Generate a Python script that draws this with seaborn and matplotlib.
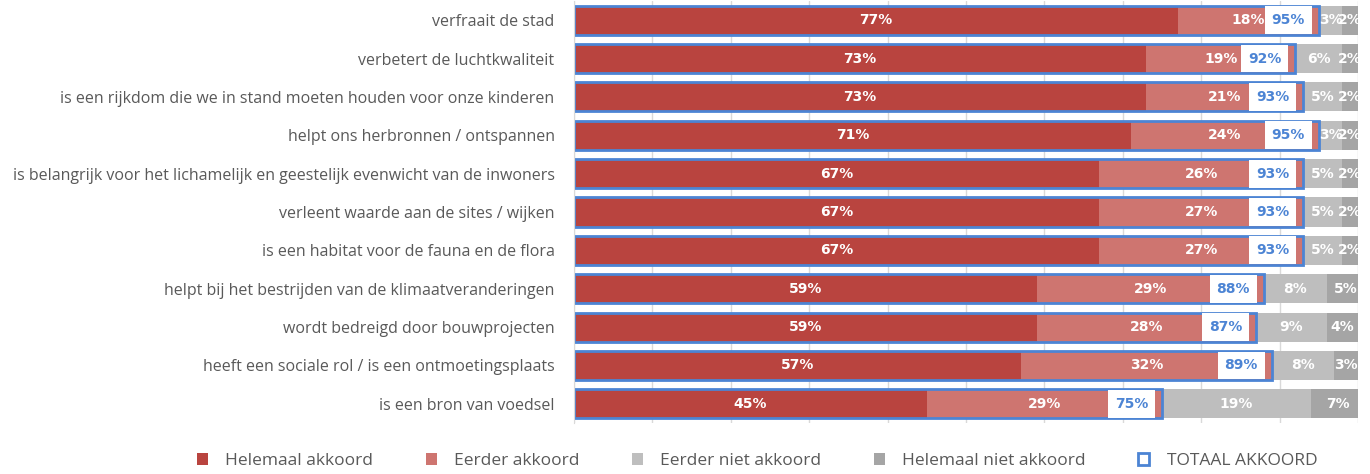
import pandas as pd
import matplotlib.pyplot as plt
import seaborn as sns
from matplotlib.patches import Patch

sns.set_style("white")
plt.rcParams['font.family'] = ['Open Sans', 'DejaVu Sans']

# ------------------------------
# DATA
# ------------------------------
categories = [
    "verfraait de stad",
    "verbetert de luchtkwaliteit",
    "is een rijkdom die we in stand moeten houden voor onze kinderen",
    "helpt ons herbronnen / ontspannen",
    "is belangrijk voor het lichamelijk en geestelijk evenwicht van de inwoners",
    "verleent waarde aan de sites / wijken",
    "is een habitat voor de fauna en de flora",
    "helpt bij het bestrijden van de klimaatveranderingen",
    "wordt bedreigd door bouwprojecten",
    "heeft een sociale rol / is een ontmoetingsplaats",
    "is een bron van voedsel",
]
helemaal_akkoord = [77, 73, 73, 71, 67, 67, 67, 59, 59, 57, 45]
eerder_akkoord = [18, 19, 21, 24, 26, 27, 27, 29, 28, 32, 29]
eerder_niet_akkoord = [3, 6, 5, 3, 5, 5, 5, 8, 9, 8, 19]
helemaal_niet_akkoord = [2, 2, 2, 2, 2, 2, 2, 5, 4, 3, 7]
totaal_akkoord = [95, 92, 93, 95, 93, 93, 93, 88, 87, 89, 75]

C_DARK_RED = "#B9443F"
C_LIGHT_RED = "#CE7570"
C_LIGHT_GREY = "#BEBEBE"
C_DARK_GREY = "#A5A5A5"
C_BLUE = "#4C84D4"
C_TEXT = "#595959"

df = pd.DataFrame({
    "cat": categories,
    "ha": helemaal_akkoord,
    "ea": eerder_akkoord,
    "ena": eerder_niet_akkoord,
    "hna": helemaal_niet_akkoord,
    "tot": totaal_akkoord,
})
# stack ends (akkoord part closes at the total)
df["end_ena"] = df["tot"] + df["ena"]
df["end_hna"] = df["end_ena"] + df["hna"]

fig = plt.figure(figsize=(13.7, 4.74), dpi=100)
ax = fig.add_axes([574 / 1370, 1 - 423 / 474, (1358 - 574) / 1370, 422 / 474])

bar_kw = dict(y="cat", orient="h", width=0.76, saturation=1, errorbar=None, linewidth=0, ax=ax)
sns.barplot(data=df, x="end_hna", color=C_DARK_GREY, **bar_kw)
sns.barplot(data=df, x="end_ena", color=C_LIGHT_GREY, **bar_kw)
sns.barplot(data=df, x="tot", color=C_LIGHT_RED, **bar_kw)
sns.barplot(data=df, x="ha", color=C_DARK_RED, **bar_kw)
sns.barplot(data=df, x="tot", color=C_BLUE, fill=False,
            y="cat", orient="h", width=0.76, errorbar=None, linewidth=2, ax=ax)

ax.set_xlim(0, 100)
ax.set_xlabel("")
ax.set_ylabel("")
ax.set_xticks(range(0, 101, 10))
ax.set_xticklabels([])
ax.xaxis.grid(True, color="#D9D9D9", linewidth=1)
ax.set_axisbelow(True)
ax.tick_params(axis="y", length=0, pad=14, labelsize=11.5, labelcolor=C_TEXT)
ax.tick_params(axis="x", length=0)
for side in ["top", "right", "bottom"]:
    ax.spines[side].set_visible(False)
ax.spines["left"].set_color("#D9D9D9")

# segment labels
lab_kw = dict(ha="center", va="center", color="white", fontsize=10,
              fontweight="bold", family="DejaVu Sans", clip_on=True)
for i, r in df.iterrows():
    ax.text(r["ha"] / 2, i, f"{r['ha']}%", **lab_kw)
    ax.text((r["ha"] + r["tot"]) / 2, i, f"{r['ea']}%", **lab_kw)
    ax.text((r["tot"] + r["end_ena"]) / 2, i, f"{r['ena']}%", **lab_kw)
    ax.text((r["end_ena"] + r["end_hna"]) / 2, i, f"{r['hna']}%", **lab_kw)
    ax.annotate(f"{r['tot']}%", xy=(r["tot"], i), xytext=(-10, 0),
                textcoords="offset points", ha="right", va="center",
                color=C_BLUE, fontsize=10, fontweight="bold", family="DejaVu Sans",
                bbox=dict(boxstyle="square,pad=0.5", fc="white", ec="none"))

handles = [
    Patch(facecolor=C_DARK_RED, edgecolor="none"),
    Patch(facecolor=C_LIGHT_RED, edgecolor="none"),
    Patch(facecolor=C_LIGHT_GREY, edgecolor="none"),
    Patch(facecolor=C_DARK_GREY, edgecolor="none"),
    Patch(facecolor="white", edgecolor=C_BLUE, linewidth=2),
]
labels = ["Helemaal akkoord", "Eerder akkoord", "Eerder niet akkoord",
          "Helemaal niet akkoord", "TOTAAL AKKOORD"]
fig.legend(handles, labels, loc="center", bbox_to_anchor=(757 / 1370, 1 - 461 / 474),
           ncol=5, frameon=False, fontsize=12.5, labelcolor=C_TEXT,
           handlelength=0.65, handleheight=0.65, handletextpad=1.0, columnspacing=3.0)

plt.savefig("out.png", dpi=100)
plt.close()
